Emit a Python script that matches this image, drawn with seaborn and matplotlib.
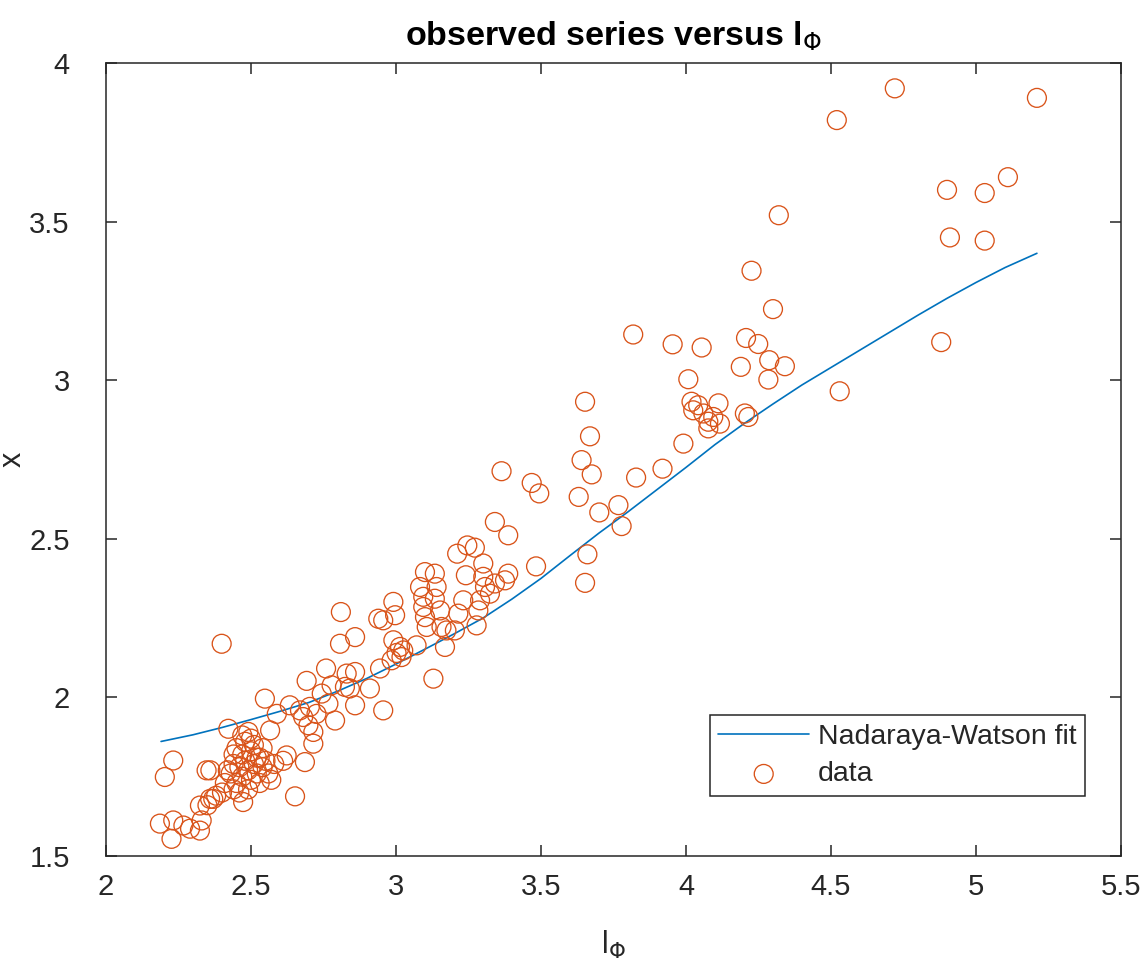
import numpy as np
import pandas as pd
import matplotlib
matplotlib.use("Agg")
import matplotlib.pyplot as plt
import seaborn as sns

# observed data: l_Phi (x axis) and the series value x (y axis)
l_phi = [
    4.72, 5.21, 4.52, 4.90, 5.03, 5.11, 4.91, 5.03, 4.88, 4.53,
    4.32, 4.226, 4.30, 3.954, 4.054, 4.207, 4.249, 4.287, 4.341, 4.189, 4.284, 4.008,
    4.019, 4.042, 4.025, 4.06, 4.077, 4.077, 4.112, 4.117, 4.094, 4.203, 4.215, 3.991,
    3.818, 3.919, 3.828, 3.767, 3.701, 3.778, 3.652, 3.669, 3.64, 3.675, 3.63, 3.66, 3.652,
    3.364, 3.468, 3.494, 3.341, 3.387, 3.483,
    3.211, 3.246, 3.272, 3.241, 3.301, 3.387, 3.376, 3.341, 3.301, 3.307, 3.29, 3.324,
    3.232, 3.215, 3.284, 3.278, 3.10, 3.134, 3.083, 3.14, 3.094, 3.134, 3.094, 3.152,
    3.10, 3.157, 3.174, 3.203, 3.106, 3.169, 3.071, 2.991, 2.997, 2.956, 2.991, 3.014,
    3.002, 3.025, 3.019, 2.985, 2.945, 3.129,
    2.81, 2.807, 2.859, 2.939, 2.759, 2.692, 2.83, 2.859, 2.824, 2.841, 2.91, 2.778,
    2.744, 2.767, 2.859, 2.956, 2.79, 2.548, 2.634, 2.669, 2.703, 2.68, 2.726, 2.698,
    2.715, 2.589, 2.491, 2.566, 2.652, 2.399, 2.623, 2.611, 2.686, 2.715, 2.422,
    2.232, 2.203, 2.347, 2.36,
    2.186, 2.232, 2.226, 2.267, 2.29, 2.324, 2.33, 2.359, 2.324, 2.473, 2.38, 2.40,
    2.45, 2.47, 2.48, 2.50, 2.51, 2.49, 2.46, 2.44, 2.53, 2.55, 2.52, 2.50, 2.47, 2.45,
    2.43, 2.48, 2.51, 2.54, 2.56, 2.53, 2.49, 2.46, 2.44, 2.41, 2.37, 2.35, 2.57, 2.58,
    2.50, 2.47, 2.52, 2.44, 2.42, 2.54,
]
x_obs = [
    3.92, 3.89, 3.82, 3.60, 3.59, 3.64, 3.45, 3.44, 3.12, 2.965,
    3.52, 3.345, 3.224, 3.113, 3.103, 3.133, 3.114, 3.063, 3.044, 3.042, 3.002, 3.003,
    2.932, 2.921, 2.905, 2.895, 2.869, 2.848, 2.927, 2.863, 2.884, 2.895, 2.884, 2.80,
    3.144, 2.721, 2.693, 2.606, 2.583, 2.54, 2.932, 2.823, 2.748, 2.703, 2.632, 2.451, 2.361,
    2.713, 2.676, 2.643, 2.553, 2.511, 2.413,
    2.453, 2.479, 2.472, 2.385, 2.422, 2.39, 2.369, 2.359, 2.38, 2.348, 2.306, 2.327,
    2.306, 2.264, 2.274, 2.227, 2.395, 2.39, 2.348, 2.348, 2.317, 2.311, 2.285, 2.274,
    2.253, 2.222, 2.211, 2.211, 2.222, 2.159, 2.164, 2.301, 2.259, 2.243, 2.18, 2.159,
    2.14, 2.148, 2.127, 2.117, 2.091, 2.059,
    2.269, 2.169, 2.19, 2.248, 2.091, 2.052, 2.075, 2.08, 2.033, 2.028, 2.028, 2.038,
    2.012, 1.98, 1.975, 1.959, 1.927, 1.996, 1.975, 1.959, 1.97, 1.938, 1.948, 1.912,
    1.891, 1.948, 1.891, 1.896, 1.688, 2.169, 1.817, 1.80, 1.796, 1.854, 1.901,
    1.801, 1.749, 1.77, 1.77,
    1.602, 1.612, 1.554, 1.596, 1.586, 1.58, 1.612, 1.68, 1.659, 1.67, 1.69, 1.70,
    1.84, 1.82, 1.80, 1.83, 1.79, 1.77, 1.78, 1.79, 1.81, 1.80, 1.76, 1.74, 1.75, 1.73,
    1.76, 1.86, 1.85, 1.78, 1.76, 1.73, 1.71, 1.70, 1.71, 1.73, 1.68, 1.66, 1.74, 1.79,
    1.87, 1.88, 1.81, 1.82, 1.77, 1.84,
]

# Nadaraya-Watson kernel regression curve
fit_l = [2.19, 2.3, 2.4, 2.5, 2.6, 2.7, 2.8, 2.9, 3.0, 3.1, 3.2, 3.3, 3.4, 3.5, 3.6,
         3.7, 3.8, 3.9, 4.0, 4.1, 4.2, 4.3, 4.4, 4.5, 4.6, 4.7, 4.8, 4.9, 5.0, 5.1, 5.21]
fit_x = [1.861, 1.882, 1.905, 1.93, 1.956, 1.984, 2.02, 2.06, 2.105, 2.152, 2.20, 2.25,
         2.31, 2.375, 2.447, 2.518, 2.585, 2.655, 2.725, 2.797, 2.863, 2.925, 2.985, 3.04,
         3.095, 3.15, 3.205, 3.258, 3.308, 3.355, 3.40]

x_ticks = [2, 2.5, 3, 3.5, 4, 4.5, 5, 5.5]
y_ticks = [1.5, 2, 2.5, 3, 3.5, 4]

BLUE = "#0072BD"
ORANGE = "#D95319"
DARK = "#262626"

sns.set_theme(style="white")
plt.rcParams["font.family"] = ["Liberation Sans", "DejaVu Sans"]
plt.rcParams["mathtext.fontset"] = "dejavusans"

fig = plt.figure(figsize=(11.48, 9.66), dpi=100)
ax = fig.add_axes([0.0923, 0.1139, 0.8842, 0.8209])

obs = pd.DataFrame({"l_phi": l_phi, "x": x_obs})
fit = pd.DataFrame({"l_phi": fit_l, "x": fit_x})

sns.lineplot(data=fit, x="l_phi", y="x", ax=ax, color=BLUE, linewidth=1.2,
             sort=False, label="Nadaraya-Watson fit")
sns.scatterplot(data=obs, x="l_phi", y="x", ax=ax, s=185, marker="o",
                facecolors="none", edgecolor=ORANGE, linewidth=0.95,
                label="data", zorder=3)

ax.set_xlim(2, 5.5)
ax.set_ylim(1.5, 4)
ax.set_xticks(x_ticks)
ax.set_yticks(y_ticks)
ax.set_xticklabels([f"{t:g}" for t in x_ticks])
ax.set_yticklabels([f"{t:g}" for t in y_ticks])

for side in ["left", "right", "top", "bottom"]:
    ax.spines[side].set_visible(True)
    ax.spines[side].set_color(DARK)
    ax.spines[side].set_linewidth(1.1)

ax.tick_params(axis="both", which="major", direction="in", length=8, width=1.1,
               color=DARK, labelcolor=DARK, labelsize=21,
               top=True, right=True, bottom=True, left=True)
ax.tick_params(axis="x", pad=12)
ax.tick_params(axis="y", pad=26)

ax.set_xlabel(r"l$_\Phi$", fontsize=22, color=DARK, labelpad=20)
ax.set_ylabel("x", fontsize=22, color=DARK)
ax.yaxis.set_label_coords(-0.077, 0.5)
ax.set_title(r"observed series versus l$_\Phi$", fontsize=24.5, fontweight="bold",
             color="black", pad=13)

leg = ax.legend(loc="lower right", bbox_to_anchor=(0.9645, 0.0757),
                borderaxespad=0, fontsize=20.5, frameon=True, fancybox=False,
                handlelength=3.2, handletextpad=0.3, borderpad=0.3,
                labelspacing=0.4, markerscale=1.0)
leg.get_frame().set_edgecolor(DARK)
leg.get_frame().set_linewidth(1.1)
leg.get_frame().set_facecolor("white")
leg.get_frame().set_alpha(1)

fig.savefig("out.png", dpi=100)
